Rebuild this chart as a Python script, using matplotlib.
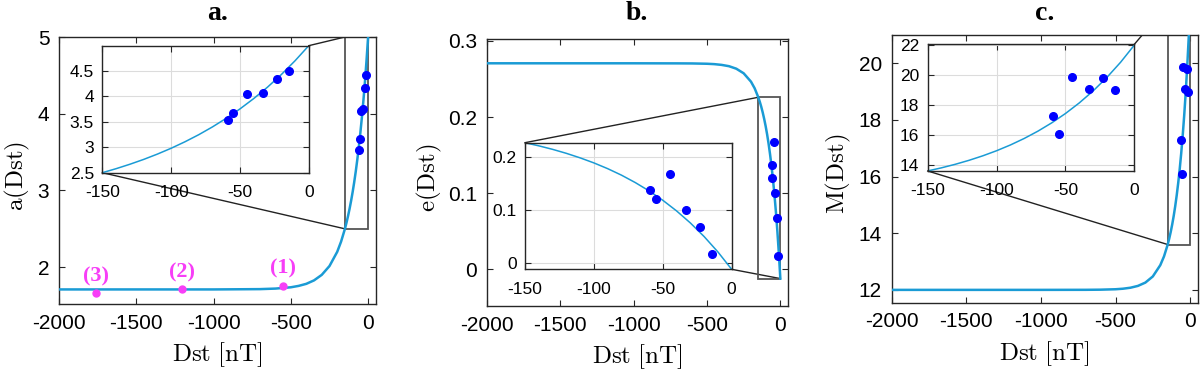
import matplotlib
matplotlib.use("Agg")
import matplotlib.pyplot as plt
from matplotlib.patches import Rectangle
from matplotlib.ticker import FuncFormatter

plt.rcParams["font.family"] = ["Liberation Sans", "DejaVu Sans"]
plt.rcParams["mathtext.fontset"] = "cm"
plt.rcParams["axes.unicode_minus"] = False

# ---------------------------------------------------------------------------
# data
# ---------------------------------------------------------------------------
DST_CURVE = [-2000, -1000, -700, -600, -500, -450, -400, -350, -300, -250,
             -200, -175, -150, -140, -130, -120, -110, -100, -90, -80, -70,
             -60, -50, -40, -30, -20, -10, 0]
A_CURVE = [1.71, 1.71, 1.714, 1.721, 1.738, 1.756, 1.783, 1.828, 1.90, 2.015,
           2.20, 2.333, 2.50, 2.579, 2.666, 2.761, 2.866, 2.981, 3.108, 3.247,
           3.401, 3.57, 3.755, 3.959, 4.183, 4.43, 4.702, 5.0]
E_CURVE = [0.2706, 0.2706, 0.2705, 0.2704, 0.270, 0.2695, 0.2685, 0.2668,
           0.2635, 0.2575, 0.2465, 0.2378, 0.2259, 0.2201, 0.2135, 0.206,
           0.1975, 0.188, 0.1772, 0.165, 0.1511, 0.1355, 0.1178, 0.0978,
           0.0752, 0.0496, 0.0207, -0.012]
M_CURVE = [12.0, 12.0, 12.002, 12.007, 12.022, 12.041, 12.076, 12.14, 12.257,
           12.474, 12.872, 13.182, 13.604, 13.812, 14.047, 14.313, 14.613,
           14.952, 15.335, 15.768, 16.257, 16.81, 17.434, 18.139, 18.935,
           19.835, 20.851, 22.0]

EVENT_DST = [-59, -55, -45, -33, -23, -14]
EVENT_A = [3.53, 3.67, 4.04, 4.06, 4.34, 4.50]
EVENT_E = [0.137, 0.120, 0.167, 0.100, 0.068, 0.017]
EVENT_M = [17.3, 16.1, 19.85, 19.1, 19.8, 19.0]

STORM_DST = [-548, -1206, -1761]
STORM_A = [1.76, 1.71, 1.66]
STORM_LABELS = ["(1)", "(2)", "(3)"]

ZOOM_X = (-150, 0)

CURVE_COLOR = "#1a9bd5"
DOT_COLOR = "#0000ff"
MAGENTA = "#f73ef7"
SPINE = "#262626"

fmt = FuncFormatter(lambda v, _: f"{v:g}")


def style(ax, fs, pad):
    ax.tick_params(direction="in", top=True, right=True, length=4,
                   width=0.8, colors=SPINE, labelsize=fs, pad=pad,
                   labelcolor="black")
    for s in ax.spines.values():
        s.set_color(SPINE)
        s.set_linewidth(1.0)
    ax.yaxis.set_major_formatter(fmt)


def panel(fig, pos, inset_pos, y_curve, y_events, ylim, yticks, in_ylim,
          in_yticks, ylabel, title, ylab_x, links):
    ax = fig.add_axes(pos)
    ax.plot(DST_CURVE, y_curve, color=CURVE_COLOR, lw=1.8, zorder=3)
    ax.plot(EVENT_DST, y_events, "o", color=DOT_COLOR, ms=5.5, zorder=4)
    ax.set_xlim(-2000, 50)
    ax.set_ylim(*ylim)
    ax.set_xticks([-2000, -1500, -1000, -500, 0])
    ax.set_yticks(yticks)
    style(ax, 15, 7)
    ax.set_ylabel(ylabel, fontsize=18)
    ax.yaxis.set_label_coords(ylab_x, 0.48)
    ax.yaxis.label.set_va("center")
    ax.set_xlabel(r"$\mathrm{Dst\ [nT]}$", fontsize=18)
    ax.xaxis.set_label_coords(0.5, -0.19)
    ax.xaxis.label.set_va("center")
    fig.text(pos[0] + pos[2] / 2, 0.963, title, ha="center", va="center",
             fontsize=20, fontweight="bold", family="Liberation Serif")

    # zoom rectangle
    ax.add_patch(Rectangle((ZOOM_X[0], in_ylim[0]), ZOOM_X[1] - ZOOM_X[0],
                           in_ylim[1] - in_ylim[0], facecolor="none",
                           edgecolor="#555555", lw=1.3, zorder=2))

    axin = fig.add_axes(inset_pos)
    axin.plot(DST_CURVE, y_curve, color=CURVE_COLOR, lw=1.1)
    axin.plot(EVENT_DST, y_events, "o", color=DOT_COLOR, ms=5.5)
    axin.set_xlim(*ZOOM_X)
    axin.set_ylim(*in_ylim)
    axin.set_xticks([-150, -100, -50, 0])
    axin.set_yticks(in_yticks)
    axin.grid(True, color="#dcdcdc", lw=0.8)
    style(axin, 12.5, 6)
    axin.tick_params(axis="x", pad=9)

    # connector lines from inset corners to the zoom rectangle
    inv = ax.transData.inverted()
    for corner, (rx, ry) in links:
        px, py = inv.transform(axin.transAxes.transform(corner))
        tx = ZOOM_X[0] if rx == 0 else ZOOM_X[1]
        ty = in_ylim[0] if ry == 0 else in_ylim[1]
        ax.plot([px, tx], [py, ty], color="#222222", lw=1.0, zorder=1)
    return ax, axin


fig = plt.figure(figsize=(12, 3.75), dpi=100)

ax_a, _ = panel(fig, [0.0492, 0.1893, 0.264, 0.712],
                [0.0853, 0.5395, 0.172, 0.3387],
                A_CURVE, EVENT_A, (1.52, 5.0), [2, 3, 4, 5], (2.5, 5.0),
                [2.5, 3, 3.5, 4, 4.5], r"$\mathrm{a(Dst)}$", "a.", -0.13,
                [((1, 1), (0, 1)), ((0, 0), (0, 0))])
ax_a.plot(STORM_DST, STORM_A, "o", color=MAGENTA, ms=5, zorder=5)
for x, y, lab in zip(STORM_DST, STORM_A, STORM_LABELS):
    ax_a.annotate(lab, (x, y), xytext=(0, 12), textcoords="offset points",
                  ha="center", va="center", color=MAGENTA, fontsize=16,
                  fontweight="bold", family="Liberation Serif")

panel(fig, [0.4056, 0.184, 0.2508, 0.711],
      [0.4375, 0.2819, 0.1722, 0.3376],
      E_CURVE, EVENT_E, (-0.048, 0.302), [0, 0.1, 0.2, 0.3], (-0.012, 0.226),
      [0, 0.1, 0.2], r"$\mathrm{e(Dst)}$", "b.", -0.19,
      [((0, 1), (0, 1)), ((1, 0), (1, 0))])

panel(fig, [0.743, 0.193, 0.255, 0.714],
      [0.7731, 0.544, 0.1722, 0.3379],
      M_CURVE, EVENT_M, (11.55, 21.0), [12, 14, 16, 18, 20], (13.6, 22.05),
      [14, 16, 18, 20, 22], r"$\mathrm{M(Dst)}$", "c.", -0.175,
      [((1, 1), (0, 1)), ((0, 0), (0, 0))])

fig.savefig("out.png", dpi=100)
